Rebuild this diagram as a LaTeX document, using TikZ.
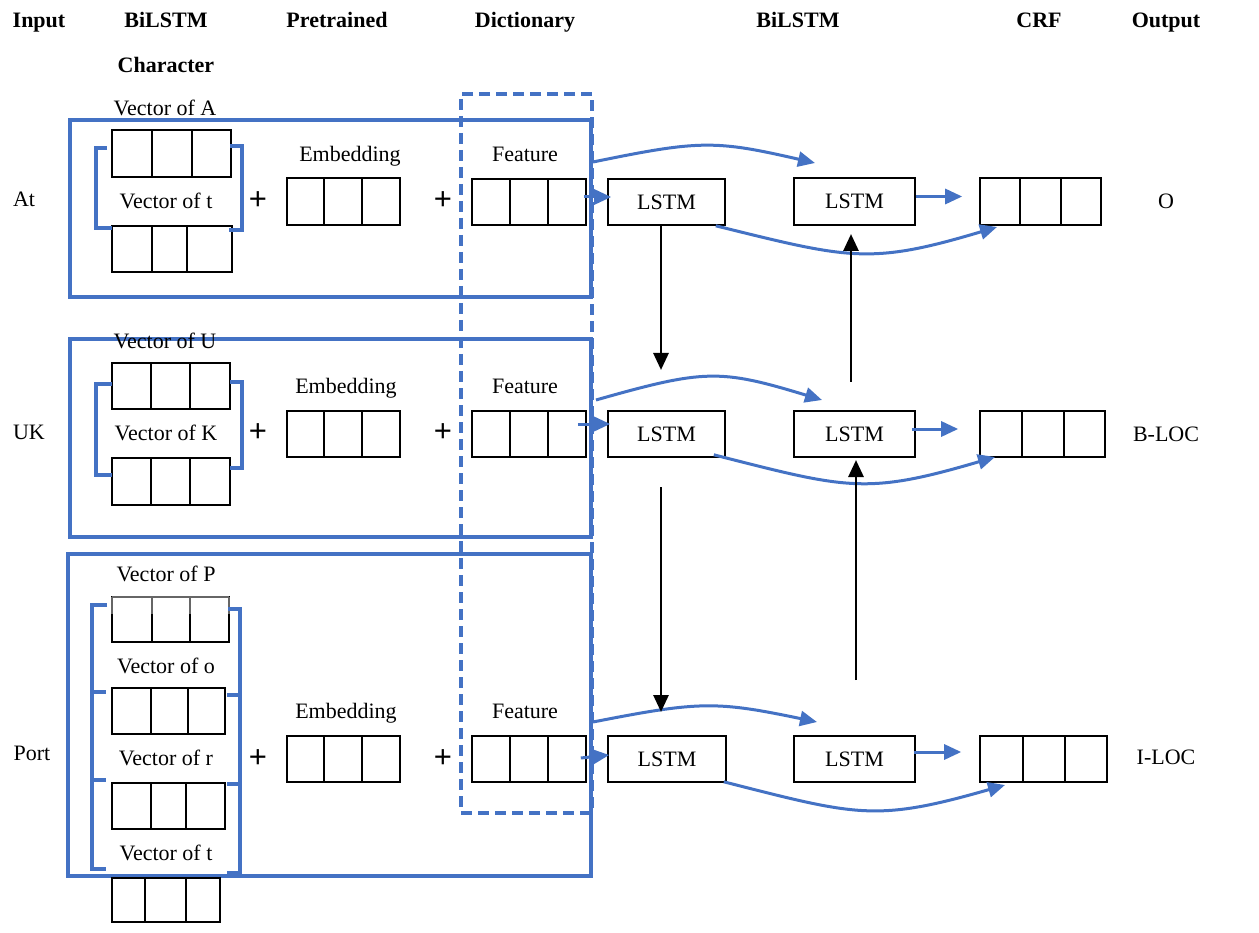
\documentclass[tikz,border=0pt]{standalone}
\usepackage{fontspec}
\setmainfont{Liberation Serif}
\newfontfamily\plusfont{Liberation Sans}
\usetikzlibrary{arrows.meta}
\definecolor{wblue}{RGB}{68,114,196}
\newcommand{\boxn}[6]{\node[#2, inner sep=0pt, minimum width={(#5-#3)*1pt}, minimum height={(#6-#4)*1pt}] (#1) at ({(#3+#5)/2},{(#4+#6)/2}) {};}
\newcommand{\tribox}[7]{\boxn{#1}{cellbox}{#2}{#3}{#4}{#5}\draw[cellline] (#6,#3) -- (#6,#5) (#7,#3) -- (#7,#5);}
\begin{document}
\begin{tikzpicture}[x=1pt,y=-1pt,
 txt/.style={font=\fontsize{22}{26}\selectfont, inner sep=0pt, anchor=base},
 hdr/.style={font=\fontsize{22}{26}\selectfont\bfseries, inner sep=0pt, anchor=base},
 plus/.style={inner sep=0pt, font=\plusfont\fontsize{31}{31}\selectfont},
 cellbox/.style={draw=black, line width=1.6pt},
 cellline/.style={draw=black, line width=1.6pt},
 lstm/.style={draw=black, line width=1.6pt, inner sep=0pt, font=\fontsize{22}{26}\selectfont},
 group/.style={draw=wblue, line width=3.4pt},
 dictbox/.style={draw=wblue, line width=3.4pt, dash pattern=on 11pt off 6pt},
 brk/.style={draw=wblue, line width=3.4pt},
 barrow/.style={draw=wblue, line width=3pt, -{Triangle[length=17pt,width=15pt]}},
 karrow/.style={draw=black, line width=2.8pt, -{Triangle[length=17pt,width=15pt]}},
]
\useasboundingbox (0,0) rectangle (1259,933);
\fill[white] (0,0) rectangle (1259,933);

% headers
\node[hdr] (hInput) at (39,27.5) {Input};
\node[hdr] (hBi1) at (166,27.5) {BiLSTM};
\node[hdr] (hChar) at (166,72.5) {Character};
\node[hdr] (hPre) at (337,27.5) {Pretrained};
\node[hdr] (hDict) at (525,27.5) {Dictionary};
\node[hdr] (hBi2) at (798,27.5) {BiLSTM};
\node[hdr] (hCRF) at (1039,27.5) {CRF};
\node[hdr] (hOut) at (1166,27.5) {Output};

% group boxes
\boxn{g1}{group}{70}{120}{591}{297}
\boxn{g2}{group}{70}{339}{591}{537}
\boxn{g3}{group}{68}{554}{591}{876}
\boxn{dict}{dictbox}{461}{94}{592}{813}

% inputs and outputs
\node[txt] (inAt) at (24,206.5) {At};
\node[txt] (inUK) at (29,439.5) {UK};
\node[txt] (inPort) at (32,760.5) {Port};
\node[txt] (outO) at (1166,208.5) {O};
\node[txt] (outB) at (1166,441.5) {B-LOC};
\node[txt] (outI) at (1166,764.5) {I-LOC};

% ---------- row 1 ----------
\node[txt] (vA) at (165,115.5) {Vector of A};
\tribox{cA}{112}{130}{231}{177}{152}{192}
\node[txt] (vt1) at (166,208.5) {Vector of t};
\tribox{ct1}{112}{226}{232}{272}{152}{187}
\draw[brk] (107,148) -- (96,148) -- (96,228) -- (112,228);
\draw[brk] (230,146) -- (242,146) -- (242,230) -- (229,230);
\node[plus] (p11) at (258,201) {+};
\node[txt] (e1t) at (350,161.5) {Embedding};
\tribox{e1}{287}{178}{400}{225}{324}{362}
\node[plus] (p12) at (443,201) {+};
\node[txt] (f1t) at (525,161.5) {Feature};
\tribox{f1}{472}{179}{586}{225}{510}{548}
\node[lstm, minimum width=117pt, minimum height=46pt] (lA1) at (666.5,202) {LSTM};
\node[lstm, minimum width=121pt, minimum height=47pt] (lB1) at (854.5,201.5) {LSTM};
\tribox{c1}{980}{178}{1101}{225}{1020}{1061}

% ---------- row 2 ----------
\node[txt] (vU) at (165,348.5) {Vector of U};
\tribox{cU}{112}{363}{230}{409}{151}{190}
\node[txt] (vK) at (166,440.5) {Vector of K};
\tribox{cK}{112}{458}{230}{505}{151}{190}
\draw[brk] (112,384) -- (96,384) -- (96,475) -- (112,475);
\draw[brk] (230,382) -- (242,382) -- (242,468) -- (230,468);
\node[plus] (p21) at (258,433) {+};
\node[txt] (e2t) at (346,393.5) {Embedding};
\tribox{e2}{287}{411}{400}{457}{324}{362}
\node[plus] (p22) at (443,433) {+};
\node[txt] (f2t) at (525,393.5) {Feature};
\tribox{f2}{472}{411}{586}{457}{510}{548}
\node[lstm, minimum width=117pt, minimum height=46pt] (lA2) at (666.5,434) {LSTM};
\node[lstm, minimum width=121pt, minimum height=46pt] (lB2) at (854.5,434) {LSTM};
\tribox{c2}{980}{411}{1105}{457}{1022}{1064}

% ---------- row 3 ----------
\node[txt] (vP) at (166,581.5) {Vector of P};
\tribox{cP}{112}{597}{229}{642}{152}{190}
\draw[draw=black!60, line width=2.5pt] (112,597) -- (229,597);
\draw[draw=black!60, line width=2pt] (152,597) -- (152,614) (190,597) -- (190,614) (112,597) -- (112,614) (229,597) -- (229,614);
\node[txt] (vo) at (166,673.5) {Vector of o};
\tribox{co}{112}{688}{225}{734}{151}{188}
\node[txt] (vr) at (166,765.5) {Vector of r};
\tribox{cr}{112}{783}{225}{829}{151}{186}
\node[txt] (vt3) at (166,860.5) {Vector of t};
\tribox{ct3}{112}{878}{220}{922}{145}{186}
\draw[brk] (107,605) -- (92,605) -- (92,869) -- (106,869);
\draw[brk] (92,692) -- (106,692) (92,780) -- (106,780);
\draw[brk] (228,609) -- (240,609) -- (240,873) -- (227,873);
\draw[brk] (227,695) -- (240,695) (227,784) -- (240,784);
\node[plus] (p31) at (258,759) {+};
\node[txt] (e3t) at (346,718.5) {Embedding};
\tribox{e3}{287}{736}{400}{782}{324}{362}
\node[plus] (p32) at (443,759) {+};
\node[txt] (f3t) at (525,718.5) {Feature};
\tribox{f3}{472}{736}{586}{782}{510}{548}
\node[lstm, minimum width=118pt, minimum height=46pt] (lA3) at (667,759) {LSTM};
\node[lstm, minimum width=121pt, minimum height=46pt] (lB3) at (854.5,759) {LSTM};
\tribox{c3}{980}{736}{1107}{782}{1023}{1065}

% ---------- coordinates for free ends ----------
\coordinate (u1s) at (593,162); \coordinate (u1e) at (815,163);
\coordinate (u2s) at (596,400); \coordinate (u2e) at (822,400);
\coordinate (u3s) at (593,722); \coordinate (u3e) at (817,722);
\coordinate (w1e) at (997,227);
\coordinate (w2e) at (995,457);
\coordinate (w3e) at (1005,785);
\coordinate (d1e) at (661,370);
\coordinate (d2s) at (661,487); \coordinate (d2e) at (661,712);
\coordinate (k1s) at (851,382); \coordinate (k1e) at (851,234);
\coordinate (k2s) at (856,680); \coordinate (k2e) at (856,460);

% ---------- blue connectors ----------
\draw[barrow] ([xshift=-3pt,yshift=5pt]f1.east) -- ([xshift=4pt,yshift=5pt]lA1.west);
\draw[barrow] ([xshift=-9pt,yshift=10pt]f2.east) -- ([xshift=3pt,yshift=10pt]lA2.west);
\draw[barrow] ([xshift=-6pt,yshift=1pt]f3.east) -- ([xshift=2pt,yshift=4pt]lA3.west);

\draw[barrow] ([yshift=5pt]lB1.east) -- ([xshift=-17pt,yshift=5pt]c1.west);
\draw[barrow] ([xshift=-4pt,yshift=5pt]lB2.east) -- ([xshift=-21pt,yshift=5pt]c2.west);
\draw[barrow] ([xshift=-2pt,yshift=7pt]lB3.east) -- ([xshift=-18pt,yshift=7pt]c3.west);

\draw[barrow] (u1s) .. controls (700,140) and (715,140) .. (u1e);
\draw[barrow] (u2s) .. controls (705,369) and (720,369) .. (u2e);
\draw[barrow] (u3s) .. controls (700,701) and (716,701) .. (u3e);

\draw[barrow] ([xshift=-10pt]lA1.south east) .. controls (850,259) and (870,265) .. (w1e);
\draw[barrow] ([xshift=-12pt,yshift=3pt]lA2.south east) .. controls (848,489) and (866,495) .. (w2e);
\draw[barrow] ([xshift=-3pt,yshift=1pt]lA3.south east) .. controls (858,816) and (876,822) .. (w3e);

% ---------- black connectors ----------
\draw[karrow] ([xshift=-5.5pt]lA1.south) -- (d1e);
\draw[karrow] (d2s) -- (d2e);
\draw[karrow] (k1s) -- (k1e);
\draw[karrow] (k2s) -- (k2e);
\end{tikzpicture}
\end{document}
